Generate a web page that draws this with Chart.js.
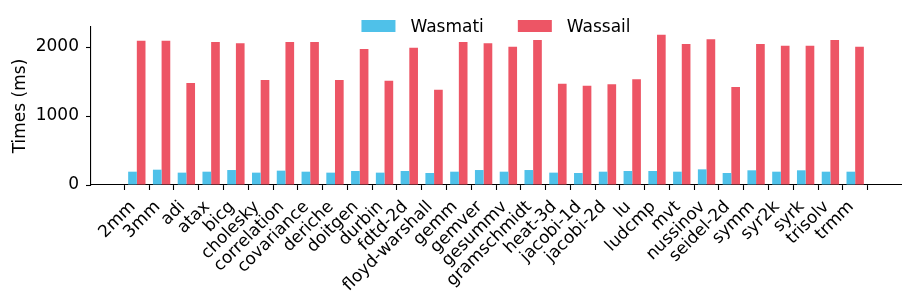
<!DOCTYPE html>
<html><head><meta charset="utf-8">
<script src="https://cdn.jsdelivr.net/npm/chart.js@4/dist/chart.umd.min.js"></script>
<style>html,body{margin:0;padding:0;background:#fff}</style>
</head><body>
<canvas id="c" width="913" height="307"></canvas>
<script>
const categories = ['2mm','3mm','adi','atax','bicg','cholesky','correlation','covariance','deriche','doitgen','durbin','fdtd-2d','floyd-warshall','gemm','gemver','gesummv','gramschmidt','heat-3d','jacobi-1d','jacobi-2d','lu','ludcmp','mvt','nussinov','seidel-2d','symm','syr2k','syrk','trisolv','trmm'];
const seriesNames = ['Wasmati', 'Wassail'];
const wasmati = [193,222,179,193,217,179,208,193,179,203,179,203,174,193,217,193,217,179,174,193,203,203,193,227,174,213,193,213,193,193];
const wassail = [2092,2092,1478,2072,2053,1522,2072,2072,1522,1971,1512,1990,1382,2072,2053,2005,2101,1469,1440,1459,1531,2179,2043,2111,1420,2043,2019,2019,2101,2005];
const yTickValues = [0, 1000, 2000];
const yAxisTitle = 'Times (ms)';

const FONT = '"DejaVu Sans", sans-serif';
const toPoints = arr => arr.map((v, i) => ({ x: i, y: v }));

const legendPlugin = {
  id: 'mplLegend',
  afterDraw(chart) {
    const ctx = chart.ctx, ca = chart.chartArea;
    ctx.save();
    ctx.font = '17px ' + FONT;
    const boxW = 34, boxH = 12, gap = 15, spacing = 34, baseline = 32;
    const items = chart.data.datasets.map(d => ({ text: d.label, color: d.backgroundColor, w: ctx.measureText(d.label).width }));
    const total = items.reduce((s, it) => s + boxW + gap + it.w, 0) + spacing * (items.length - 1);
    let x = (ca.left + ca.right) / 2 - total / 2;
    items.forEach(it => {
      ctx.fillStyle = it.color;
      ctx.fillRect(x, baseline - boxH, boxW, boxH);
      x += boxW + gap;
      ctx.fillStyle = '#000';
      ctx.textBaseline = 'alphabetic';
      ctx.textAlign = 'left';
      ctx.fillText(it.text, x, baseline);
      x += it.w + spacing;
    });
    ctx.restore();
  }
};

new Chart(document.getElementById('c'), {
  type: 'bar',
  data: {
    datasets: [
      { label: seriesNames[0], data: toPoints(wasmati), backgroundColor: '#4FC1E9', borderWidth: 0, categoryPercentage: 0.7, barPercentage: 1.0 },
      { label: seriesNames[1], data: toPoints(wassail), backgroundColor: '#ED5565', borderWidth: 0, categoryPercentage: 0.7, barPercentage: 1.0 }
    ]
  },
  options: {
    responsive: false,
    animation: false,
    devicePixelRatio: 1,
    layout: { padding: { left: 6, right: 12, top: 27, bottom: 0 } },
    plugins: { legend: { display: false }, tooltip: { enabled: false } },
    scales: {
      x: {
        type: 'linear',
        offset: false,
        min: -1.85,
        max: categories.length - 1 + 1.85,
        afterBuildTicks: s => { s.ticks = categories.map((c, i) => ({ value: i })); },
        afterFit: s => { s.height = 307 - 185; },
        grid: { display: true, drawOnChartArea: false, drawTicks: true, tickLength: 5, tickColor: '#000', tickWidth: 1.1 },
        border: { display: true, color: '#000', width: 1.1 },
        ticks: {
          autoSkip: false, minRotation: 45, maxRotation: 45, padding: 7, labelOffset: -4,
          color: '#000', font: { family: FONT, size: 17 },
          callback: v => categories[v]
        }
      },
      y: {
        min: 0,
        max: 2290,
        afterBuildTicks: s => { s.ticks = yTickValues.map(v => ({ value: v })); },
        afterFit: s => { s.width = 91 - 6; },
        grid: { display: true, drawOnChartArea: false, drawTicks: true, tickLength: 5, tickColor: '#000', tickWidth: 1.1 },
        border: { display: true, color: '#000', width: 1.1 },
        ticks: { color: '#000', padding: 7, font: { family: FONT, size: 17 }, callback: v => String(v) },
        title: { display: true, text: yAxisTitle, color: '#000', font: { family: FONT, size: 17 }, padding: { top: 4, bottom: 4 } }
      }
    }
  },
  plugins: [legendPlugin]
});
</script>
</body></html>
